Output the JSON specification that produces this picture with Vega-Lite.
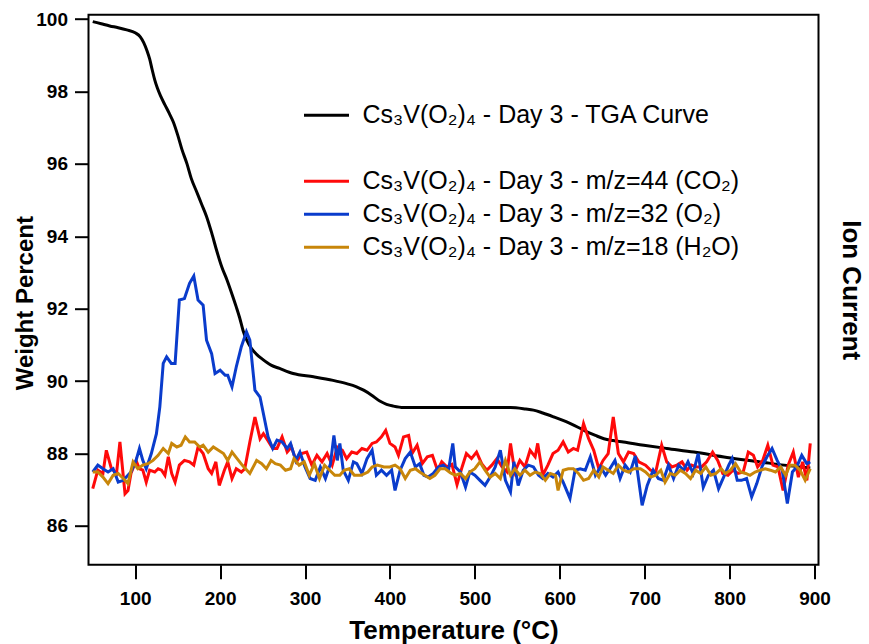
{
  "$schema": "https://vega.github.io/schema/vega-lite/v6.json",
  "width": 730,
  "height": 550,
  "autosize": {"type": "none"},
  "padding": {"left": 88.5, "top": 14.7, "right": 50.5, "bottom": 79.3},
  "background": "white",
  "config": {
    "font": "Liberation Sans",
    "view": {"stroke": "black", "strokeWidth": 2},
    "axis": {"grid": false, "domain": false, "tickColor": "black", "tickWidth": 2, "tickSize": 14,
      "labelFont": "Liberation Sans", "labelFontSize": 19, "labelFontWeight": "bold", "labelColor": "black",
      "titleFont": "Liberation Sans", "titleFontSize": 26, "titleFontWeight": "bold", "titleColor": "black"},
    "legend": {"labelFont": "Liberation Sans", "labelFontSize": 25, "labelColor": "black", "labelLimit": 700}
  },
  "datasets": {
    "tga": [
      {"T":50,"v":99.93},{"T":60,"v":99.87},{"T":70,"v":99.81},{"T":80,"v":99.76},{"T":90,"v":99.70},{"T":100,"v":99.62},{"T":106,"v":99.51},{"T":110,"v":99.35},{"T":114,"v":99.12},{"T":117,"v":98.90},{"T":120,"v":98.60},{"T":123,"v":98.32},{"T":126,"v":98.10},{"T":130,"v":97.87},{"T":135,"v":97.63},{"T":140,"v":97.40},{"T":145,"v":97.15},{"T":150,"v":96.80},{"T":155,"v":96.40},{"T":161,"v":96.00},{"T":166,"v":95.60},{"T":172,"v":95.25},{"T":178,"v":94.90},{"T":184,"v":94.55},{"T":190,"v":94.10},{"T":196,"v":93.60},{"T":202,"v":93.15},{"T":208,"v":92.80},{"T":214,"v":92.40},{"T":219,"v":92.05},{"T":223,"v":91.75},{"T":227,"v":91.40},{"T":231,"v":91.15},{"T":237,"v":90.90},{"T":243,"v":90.74},{"T":249,"v":90.62},{"T":260,"v":90.44},{"T":270,"v":90.35},{"T":286,"v":90.21},{"T":310,"v":90.12},{"T":333,"v":90.02},{"T":349,"v":89.93},{"T":360,"v":89.85},{"T":369,"v":89.75},{"T":378,"v":89.62},{"T":388,"v":89.45},{"T":396,"v":89.36},{"T":404,"v":89.31},{"T":416,"v":89.27},{"T":450,"v":89.27},{"T":500,"v":89.27},{"T":542,"v":89.27},{"T":560,"v":89.23},{"T":569,"v":89.20},{"T":580,"v":89.12},{"T":593,"v":89.01},{"T":603,"v":88.92},{"T":612,"v":88.83},{"T":622,"v":88.72},{"T":632,"v":88.60},{"T":642,"v":88.50},{"T":652,"v":88.41},{"T":663,"v":88.36},{"T":675,"v":88.32},{"T":699,"v":88.23},{"T":726,"v":88.14},{"T":758,"v":88.04},{"T":797,"v":87.89},{"T":836,"v":87.77},{"T":864,"v":87.68},{"T":883,"v":87.63},{"T":895,"v":87.60}
    ],
    "co2": [
      {"T":50,"v":87.03},{"T":56,"v":87.54},{"T":62,"v":87.45},{"T":66,"v":88.09},{"T":72,"v":87.58},{"T":78,"v":87.45},{"T":82,"v":88.32},{"T":88,"v":86.89},{"T":91.5,"v":86.98},{"T":95,"v":87.45},{"T":101,"v":87.81},{"T":105,"v":87.58},{"T":109,"v":87.54},{"T":113,"v":87.21},{"T":117,"v":87.54},{"T":123,"v":87.49},{"T":127,"v":87.58},{"T":131,"v":87.54},{"T":135,"v":87.40},{"T":139,"v":87.91},{"T":143,"v":87.45},{"T":147,"v":87.21},{"T":152,"v":87.68},{"T":158,"v":87.81},{"T":164,"v":87.77},{"T":169,"v":87.68},{"T":174,"v":88.18},{"T":180,"v":88.00},{"T":186,"v":87.58},{"T":190,"v":87.45},{"T":195,"v":87.77},{"T":199,"v":87.12},{"T":205,"v":87.54},{"T":209,"v":87.77},{"T":214,"v":87.31},{"T":219,"v":87.58},{"T":225,"v":87.49},{"T":229,"v":87.58},{"T":235,"v":88.32},{"T":241,"v":89.01},{"T":247,"v":88.41},{"T":251,"v":88.55},{"T":256,"v":88.37},{"T":262,"v":88.14},{"T":267,"v":88.14},{"T":273,"v":88.46},{"T":279,"v":88.04},{"T":284,"v":88.18},{"T":290,"v":87.77},{"T":296,"v":88.00},{"T":302,"v":88.04},{"T":308,"v":87.68},{"T":314,"v":87.95},{"T":320,"v":87.77},{"T":326,"v":88.00},{"T":332,"v":87.68},{"T":338,"v":88.18},{"T":344,"v":88.09},{"T":349,"v":87.86},{"T":355,"v":88.04},{"T":361,"v":88.00},{"T":367,"v":88.14},{"T":373,"v":88.09},{"T":379,"v":88.28},{"T":384,"v":88.32},{"T":390,"v":88.46},{"T":395,"v":88.64},{"T":400,"v":88.28},{"T":406,"v":88.18},{"T":410,"v":87.95},{"T":416,"v":88.46},{"T":422,"v":88.50},{"T":426,"v":88.00},{"T":432,"v":88.23},{"T":438,"v":87.72},{"T":444,"v":87.91},{"T":450,"v":87.95},{"T":456,"v":87.54},{"T":461,"v":87.77},{"T":467,"v":87.63},{"T":473,"v":87.70},{"T":479,"v":87.14},{"T":485,"v":87.63},{"T":490,"v":88.00},{"T":496,"v":87.86},{"T":502,"v":88.04},{"T":508,"v":87.72},{"T":514,"v":87.54},{"T":520,"v":87.68},{"T":526,"v":87.86},{"T":532,"v":87.63},{"T":538,"v":87.49},{"T":542,"v":88.28},{"T":547,"v":87.49},{"T":553,"v":87.81},{"T":559,"v":87.63},{"T":565,"v":88.09},{"T":571,"v":87.91},{"T":574,"v":88.28},{"T":580,"v":87.40},{"T":586,"v":87.68},{"T":592,"v":88.00},{"T":598,"v":88.09},{"T":604,"v":88.32},{"T":610,"v":88.04},{"T":616,"v":88.14},{"T":621,"v":88.09},{"T":628,"v":88.83},{"T":634,"v":88.41},{"T":640,"v":88.09},{"T":646,"v":87.58},{"T":651,"v":87.81},{"T":657,"v":88.00},{"T":663,"v":89.01},{"T":669,"v":88.00},{"T":675,"v":87.77},{"T":681,"v":88.04},{"T":687,"v":88.00},{"T":693,"v":87.77},{"T":701,"v":87.68},{"T":707,"v":87.54},{"T":713,"v":87.49},{"T":720,"v":88.23},{"T":726,"v":87.77},{"T":732,"v":87.63},{"T":738,"v":87.68},{"T":744,"v":87.77},{"T":750,"v":87.54},{"T":755,"v":87.68},{"T":761,"v":87.63},{"T":767,"v":87.63},{"T":773,"v":87.77},{"T":780,"v":88.04},{"T":786,"v":87.81},{"T":792,"v":87.45},{"T":798,"v":87.40},{"T":804,"v":87.54},{"T":810,"v":87.45},{"T":816,"v":87.49},{"T":822,"v":88.04},{"T":828,"v":87.95},{"T":833,"v":87.63},{"T":839,"v":87.81},{"T":845,"v":88.23},{"T":851,"v":87.68},{"T":857,"v":87.63},{"T":863,"v":86.98},{"T":869,"v":87.68},{"T":875,"v":88.04},{"T":881,"v":87.35},{"T":886,"v":87.77},{"T":891,"v":87.26},{"T":895,"v":88.28}
    ],
    "o2": [
      {"T":50,"v":87.49},{"T":56,"v":87.68},{"T":62,"v":87.58},{"T":68,"v":87.49},{"T":74,"v":87.58},{"T":80,"v":87.21},{"T":86,"v":87.26},{"T":89.5,"v":87.35},{"T":95,"v":87.49},{"T":101,"v":87.81},{"T":105,"v":88.14},{"T":109,"v":87.81},{"T":113,"v":87.58},{"T":119,"v":88.00},{"T":125,"v":88.55},{"T":129,"v":89.29},{"T":133,"v":90.49},{"T":137,"v":90.67},{"T":142.5,"v":90.49},{"T":147,"v":90.49},{"T":152,"v":92.24},{"T":158,"v":92.28},{"T":164,"v":92.70},{"T":169,"v":92.90},{"T":174,"v":92.24},{"T":180,"v":92.10},{"T":184,"v":91.13},{"T":190,"v":90.76},{"T":194,"v":90.21},{"T":200,"v":90.30},{"T":206,"v":90.16},{"T":209,"v":90.16},{"T":214,"v":89.84},{"T":219,"v":90.39},{"T":225,"v":90.95},{"T":231,"v":91.36},{"T":235,"v":91.13},{"T":241,"v":89.75},{"T":247,"v":89.56},{"T":251,"v":89.10},{"T":256.5,"v":88.46},{"T":262,"v":88.14},{"T":267,"v":88.37},{"T":273,"v":88.32},{"T":279,"v":88.14},{"T":283,"v":88.28},{"T":289,"v":87.81},{"T":294,"v":88.04},{"T":300,"v":87.63},{"T":306,"v":87.31},{"T":312,"v":87.26},{"T":318,"v":87.63},{"T":324,"v":87.31},{"T":330,"v":87.72},{"T":334,"v":88.50},{"T":338,"v":87.81},{"T":341,"v":88.28},{"T":345,"v":87.54},{"T":351,"v":87.26},{"T":357,"v":87.77},{"T":361,"v":87.72},{"T":367,"v":87.45},{"T":373,"v":87.86},{"T":379,"v":88.09},{"T":384,"v":87.40},{"T":390,"v":87.54},{"T":396,"v":87.40},{"T":402,"v":87.54},{"T":406,"v":86.98},{"T":412,"v":87.54},{"T":418,"v":87.86},{"T":424,"v":88.04},{"T":430,"v":87.63},{"T":435,"v":87.72},{"T":440,"v":87.40},{"T":445,"v":87.35},{"T":451,"v":87.45},{"T":457,"v":87.63},{"T":463,"v":87.68},{"T":469,"v":87.54},{"T":474,"v":88.28},{"T":477,"v":87.63},{"T":483,"v":87.49},{"T":489,"v":87.07},{"T":494,"v":87.49},{"T":500,"v":87.40},{"T":506,"v":87.26},{"T":512,"v":87.12},{"T":518,"v":87.35},{"T":524,"v":87.63},{"T":530,"v":88.09},{"T":536,"v":87.26},{"T":542,"v":86.94},{"T":546,"v":87.77},{"T":551,"v":87.12},{"T":557,"v":87.54},{"T":563,"v":87.68},{"T":569,"v":87.63},{"T":575,"v":87.40},{"T":580,"v":87.31},{"T":586,"v":87.45},{"T":592,"v":87.35},{"T":598,"v":87.49},{"T":604,"v":87.21},{"T":612,"v":86.76},{"T":618,"v":87.54},{"T":624,"v":87.58},{"T":630,"v":87.54},{"T":636,"v":87.91},{"T":642,"v":87.40},{"T":648,"v":87.63},{"T":654,"v":87.40},{"T":659,"v":87.58},{"T":665,"v":87.81},{"T":671,"v":87.31},{"T":677,"v":87.68},{"T":683,"v":87.49},{"T":689,"v":87.93},{"T":697,"v":86.57},{"T":703,"v":87.12},{"T":710,"v":87.54},{"T":716,"v":87.31},{"T":722,"v":87.26},{"T":728,"v":87.68},{"T":734,"v":87.31},{"T":740,"v":87.68},{"T":746,"v":87.54},{"T":751,"v":87.77},{"T":757,"v":87.45},{"T":763,"v":88.00},{"T":769,"v":87.07},{"T":775,"v":87.40},{"T":781,"v":87.54},{"T":787,"v":87.03},{"T":793,"v":87.35},{"T":799,"v":87.68},{"T":803,"v":87.86},{"T":809,"v":87.26},{"T":814,"v":87.26},{"T":820,"v":87.31},{"T":826,"v":86.80},{"T":832,"v":87.17},{"T":838,"v":87.63},{"T":844,"v":87.91},{"T":850,"v":88.14},{"T":856,"v":87.81},{"T":862,"v":87.54},{"T":868,"v":86.62},{"T":874,"v":87.49},{"T":879,"v":87.63},{"T":885,"v":87.95},{"T":891,"v":87.72},{"T":895,"v":87.77}
    ],
    "h2o": [
      {"T":50,"v":87.49},{"T":56,"v":87.49},{"T":62,"v":87.35},{"T":68,"v":87.17},{"T":74,"v":87.40},{"T":80,"v":87.45},{"T":86,"v":87.31},{"T":91.5,"v":87.17},{"T":97.5,"v":87.77},{"T":103,"v":87.58},{"T":109,"v":87.68},{"T":115,"v":87.72},{"T":121,"v":87.81},{"T":127,"v":87.95},{"T":133,"v":88.14},{"T":139,"v":88.00},{"T":143,"v":88.28},{"T":149,"v":88.18},{"T":154,"v":88.23},{"T":159,"v":88.46},{"T":164,"v":88.32},{"T":170,"v":88.32},{"T":176,"v":88.18},{"T":180,"v":88.23},{"T":186,"v":88.04},{"T":192,"v":88.18},{"T":198,"v":88.09},{"T":204,"v":88.00},{"T":209,"v":87.81},{"T":214,"v":88.04},{"T":220,"v":87.86},{"T":226,"v":87.68},{"T":235,"v":87.45},{"T":243,"v":87.81},{"T":249,"v":87.72},{"T":254.5,"v":87.58},{"T":260,"v":87.81},{"T":265,"v":87.72},{"T":271,"v":87.68},{"T":277,"v":87.54},{"T":283,"v":87.58},{"T":287,"v":87.86},{"T":293,"v":87.68},{"T":299,"v":87.77},{"T":305,"v":87.40},{"T":311,"v":87.72},{"T":317,"v":87.31},{"T":323,"v":87.68},{"T":329,"v":87.54},{"T":335,"v":87.40},{"T":341,"v":87.40},{"T":346,"v":87.54},{"T":352,"v":87.58},{"T":358,"v":87.40},{"T":366,"v":87.40},{"T":374,"v":87.49},{"T":379,"v":87.63},{"T":385,"v":87.68},{"T":393,"v":87.63},{"T":400,"v":87.63},{"T":406,"v":87.68},{"T":412,"v":87.58},{"T":418,"v":87.31},{"T":424,"v":87.54},{"T":430,"v":87.58},{"T":435,"v":87.49},{"T":441,"v":87.40},{"T":447,"v":87.31},{"T":453,"v":87.40},{"T":459,"v":87.58},{"T":465,"v":87.58},{"T":471,"v":87.47},{"T":477,"v":87.40},{"T":483,"v":87.45},{"T":489,"v":87.31},{"T":494,"v":87.49},{"T":500,"v":87.58},{"T":506,"v":87.77},{"T":512,"v":87.54},{"T":518,"v":87.35},{"T":524,"v":87.45},{"T":530,"v":87.31},{"T":536,"v":87.81},{"T":542,"v":87.40},{"T":547,"v":87.58},{"T":553,"v":87.40},{"T":559,"v":87.54},{"T":565,"v":87.40},{"T":571,"v":87.49},{"T":577,"v":87.45},{"T":583,"v":87.26},{"T":589,"v":87.45},{"T":595,"v":87.40},{"T":598,"v":86.98},{"T":604,"v":87.54},{"T":610,"v":87.58},{"T":616,"v":87.58},{"T":622,"v":87.45},{"T":628,"v":87.26},{"T":634,"v":87.31},{"T":640,"v":87.54},{"T":646,"v":87.35},{"T":651,"v":87.63},{"T":657,"v":87.54},{"T":663,"v":87.45},{"T":669,"v":87.68},{"T":675,"v":87.54},{"T":681,"v":87.49},{"T":687,"v":87.58},{"T":695,"v":87.58},{"T":701,"v":87.49},{"T":707,"v":87.35},{"T":713,"v":87.40},{"T":719,"v":87.54},{"T":724,"v":87.21},{"T":730,"v":87.45},{"T":736,"v":87.40},{"T":742,"v":87.54},{"T":748,"v":87.45},{"T":754,"v":87.31},{"T":760,"v":87.54},{"T":766,"v":87.45},{"T":772,"v":87.63},{"T":778,"v":87.40},{"T":784,"v":87.45},{"T":790,"v":87.58},{"T":795,"v":87.45},{"T":801,"v":87.54},{"T":807,"v":87.72},{"T":813,"v":87.49},{"T":819,"v":87.45},{"T":824,"v":87.40},{"T":830,"v":87.49},{"T":836,"v":87.54},{"T":842,"v":87.58},{"T":848,"v":87.54},{"T":854,"v":87.49},{"T":860,"v":87.63},{"T":866,"v":87.40},{"T":871,"v":87.68},{"T":877,"v":87.68},{"T":883,"v":87.54},{"T":889,"v":87.26},{"T":895,"v":87.58}
    ]
  },
  "encoding": {
    "x": {"field": "T", "type": "quantitative",
      "scale": {"domain": [45, 904.7], "nice": false, "zero": false},
      "axis": {"title": "Temperature (°C)", "values": [100, 200, 300, 400, 500, 600, 700, 800, 900], "labelPadding": 11, "titlePadding": 9}}
  },
  "layer": [
    {
      "data": {"name": "tga"},
      "mark": {"type": "line", "strokeWidth": 3, "interpolate": "monotone"},
      "encoding": {
        "y": {"field": "v", "type": "quantitative",
          "scale": {"domain": [84.93, 100.12], "nice": false, "zero": false},
          "axis": {"title": "Weight Percent", "titleFontSize": 24, "titleY": 288, "values": [86, 88, 90, 92, 94, 96, 98, 100], "labelPadding": 7, "titlePadding": -2}},
        "color": {"datum": "Cs₃V(O₂)₄ - Day 3 - TGA Curve", "type": "nominal",
          "scale": {
            "domain": ["Cs₃V(O₂)₄ - Day 3 - TGA Curve", " ", "Cs₃V(O₂)₄ - Day 3 - m/z=44 (CO₂)", "Cs₃V(O₂)₄ - Day 3 - m/z=32 (O₂)", "Cs₃V(O₂)₄ - Day 3 - m/z=18 (H₂O)"],
            "range": ["#000000", "transparent", "#ff0a0a", "#0a3ccc", "#c8860a"]},
          "legend": {"title": null, "orient": "none", "legendX": 214, "legendY": 84, "padding": 0,
            "symbolType": "stroke", "symbolSize": 2025, "symbolStrokeWidth": 3, "labelOffset": 12, "rowPadding": 0, "clipHeight": 33}}
      }
    },
    {
      "layer": [
        {"data": {"name": "co2"}, "mark": {"type": "line", "strokeWidth": 3},
          "encoding": {"y": {"field": "v", "type": "quantitative"}, "color": {"datum": "Cs₃V(O₂)₄ - Day 3 - m/z=44 (CO₂)", "type": "nominal"}}},
        {"data": {"name": "o2"}, "mark": {"type": "line", "strokeWidth": 3},
          "encoding": {"y": {"field": "v", "type": "quantitative"}, "color": {"datum": "Cs₃V(O₂)₄ - Day 3 - m/z=32 (O₂)", "type": "nominal"}}},
        {"data": {"name": "h2o"}, "mark": {"type": "line", "strokeWidth": 3},
          "encoding": {"y": {"field": "v", "type": "quantitative"}, "color": {"datum": "Cs₃V(O₂)₄ - Day 3 - m/z=18 (H₂O)", "type": "nominal"}}}
      ],
      "encoding": {
        "y": {"field": "v", "type": "quantitative",
          "scale": {"domain": [84.93, 100.12], "nice": false, "zero": false},
          "axis": {"orient": "right", "title": "Ion Current", "labels": false, "ticks": false, "domain": false, "titlePadding": 19}}
      }
    }
  ],
  "resolve": {"scale": {"y": "independent"}}
}
